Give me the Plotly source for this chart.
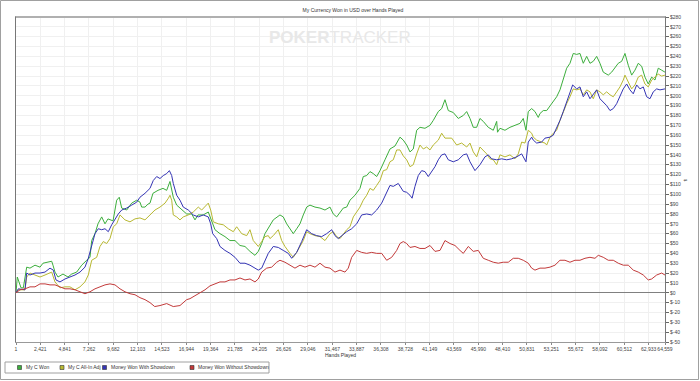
import plotly.graph_objects as go

# ---------------- data ----------------
green_hands = [1,130,500,730,1065,1393,1890,2388,2686,3054,3551,3680,3879,4178,4675,5172,5541,6038,6535,7033,7361,7530,7858,8157,8524,8853,9151,9654,10017,10275,10514,11011,11509,12006,12334,12503,12832,13130,13329,13627,14125,14622,14990,15318,15488,15647,15985,16482,16980,17477,17805,18104,18631,19128,19466,19795,20292,20789,21287,21784,22281,22779,23276,23773,24102,24440,24768,25265,25594,26260,26588,26927,27255,27583,27921,28249,28578,28916,29244,29742,30239,30736,31234,31562,31900,32228,32557,32895,33223,33720,34218,34546,34884,35212,35541,35879,36207,36704,37202,37699,38196,38525,38863,39191,39520,39858,40186,40683,41181,41509,42007,42345,42673,43002,43499,43996,44494,44832,45159,45488,45826,46154,46483,46980,47478,47816,47900,48143,48641,49138,49635,50133,50461,50730,50958,51296,51625,51953,52122,52450,52789,53117,53445,53783,54112,54440,54778,55106,55435,55773,56101,56429,56768,57096,57424,57762,58090,58419,58916,59254,59582,59910,60249,60577,60905,61243,61571,61900,62238,62566,62894,63233,63561,63889,64228,64556]
green_vals = [0,16,5,5,26,25,28,26,30,31,32,28,21,16,19,16,19,21,28,33,36,53,60,70,77,70,75,73,94,97,86,84,91,94,92,87,87,90,91,101,104,106,104,113,106,97,89,84,80,80,74,79,79,82,72,64,60,57,53,53,48,47,42,38,42,50,60,69,74,79,77,70,65,60,65,70,79,87,89,87,86,84,87,80,77,82,86,87,94,99,106,118,119,123,121,118,124,135,146,149,158,155,150,143,146,165,168,167,170,175,184,187,196,185,183,177,180,184,177,168,168,177,174,168,165,174,163,167,165,168,170,172,177,165,184,187,184,178,182,185,185,190,194,199,206,216,228,233,243,242,243,233,240,233,235,240,233,224,221,224,228,233,235,243,231,221,226,233,230,219,212,219,216,228,226,224]

yellow_hands = [1,230,895,1065,1393,1890,2388,2885,3551,3879,4377,4874,5371,5869,6366,6863,7192,7530,8027,8355,8684,9022,9350,9684,10017,10345,10842,11340,11837,12334,12832,13329,13826,14324,14821,15160,15318,15488,15647,15985,16313,16641,17139,17636,18134,18472,18800,19128,19367,19626,20123,20621,21117,21615,21953,22450,22948,23276,23604,24102,24440,24768,25096,25265,25594,26091,26429,26757,27255,27583,27921,28249,28578,28916,29244,29742,30239,30736,31234,31562,31900,32228,32557,32895,33223,33554,33889,34218,34546,34884,35212,35541,35879,36207,36540,36874,37202,37530,37868,38196,38525,38863,39191,39520,39858,40186,40514,40853,41181,41509,42007,42345,42673,43002,43340,43837,44334,44832,45159,45488,45826,46154,46483,46821,47149,47478,47816,48143,48641,49138,49635,49964,50302,50630,50958,51296,51456,51794,52291,52620,52789,53117,53445,53783,54112,54440,54778,55106,55435,55773,56101,56429,56768,57096,57424,57762,58090,58419,58757,59085,59413,59751,60080,60408,60577,60905,61243,61571,61900,62238,62566,62894,63233,63561,63889,64228,64556]
yellow_vals = [0,3,3,16,20,18,16,18,21,11,5,6,6,3,6,11,18,33,36,47,52,50,55,67,70,79,74,72,75,76,74,79,84,87,91,96,99,94,79,77,74,77,79,82,87,84,87,91,84,72,70,69,65,62,67,60,58,64,53,47,52,57,58,55,58,64,53,47,40,36,41,47,53,62,60,58,57,53,60,62,57,55,60,64,67,77,82,87,94,99,106,104,109,114,124,125,133,135,145,145,139,135,128,130,141,150,146,148,145,150,155,162,157,157,157,150,152,148,152,143,138,148,145,141,136,135,130,140,138,140,136,141,153,152,165,162,158,155,153,152,150,158,162,165,175,184,192,199,207,206,207,201,206,204,197,206,204,201,204,201,199,204,209,216,221,214,207,211,219,221,212,209,216,219,222,220,221]

blue_hands = [1,230,895,1065,1393,1890,2388,2885,3382,3710,3979,4377,4874,5371,5869,6366,6863,7192,7530,7858,8186,8524,8853,9181,9519,9848,10176,10514,11011,11509,12006,12334,12832,13329,13657,13997,14324,14652,14990,15259,15488,15647,15985,16313,16641,17139,17636,18134,18631,19128,19367,19566,19964,20292,20789,21287,21784,22281,22779,23276,23773,24102,24440,24768,25096,25594,26091,26588,27086,27424,27921,28418,28916,29413,29911,30408,30905,31403,31731,32059,32397,32895,33392,33889,34387,34884,35382,35879,36376,36874,37202,37530,38027,38525,38863,39191,39400,39689,40017,40355,40683,41012,41350,41678,42007,42345,42673,43002,43499,43996,44494,44832,45159,45657,46154,46652,46980,47318,47816,48313,48810,49307,49805,50302,50730,50958,51296,51456,51794,52291,52620,53117,53445,53783,54112,54440,54778,55106,55375,55773,56101,56429,56768,57096,57424,57762,58090,58419,58757,59085,59413,59751,60080,60408,60746,61074,61403,61741,62069,62397,62735,63064,63392,63730,64059,64556]
blue_vals = [0,4,3,20,18,20,20,21,25,23,13,11,14,16,18,21,26,35,47,60,65,64,65,62,69,75,80,84,86,89,92,97,101,106,114,118,116,119,121,124,119,111,99,94,87,84,79,77,79,77,70,60,55,47,43,40,36,30,30,28,25,23,25,33,40,47,46,43,40,35,41,52,64,60,58,57,60,64,58,55,58,62,65,70,79,80,79,84,91,101,109,108,111,103,102,99,96,108,119,124,123,118,123,128,135,140,141,135,133,135,140,141,133,124,130,138,140,136,135,136,135,136,138,141,133,153,158,155,152,153,157,158,160,167,175,184,194,202,211,207,209,199,204,197,201,206,197,194,190,185,187,192,199,207,212,206,202,211,207,209,199,197,204,207,206,207]

red_hands = [1,400,895,1393,1890,2388,2885,3382,3879,4377,4874,5371,5869,6366,6863,7361,7858,8355,8853,9350,9848,10345,10842,11340,11837,12334,12832,13329,13800,14324,14990,15647,16313,16980,17308,17805,18302,18800,19297,19795,20292,20789,21287,21784,22281,22779,23276,23773,24102,24440,24937,25435,25932,26260,26757,27255,27752,28249,28747,29244,29742,30239,30736,31234,31731,32228,32726,33054,33392,33889,34387,34884,35382,35879,36376,36874,37371,37868,38196,38525,38863,39191,39689,40186,40683,41181,41678,42176,42673,43171,43668,44165,44494,44991,45488,45985,46483,46980,47478,47975,48472,48969,49467,49964,50461,50958,51296,51625,52122,52620,53117,53614,54112,54609,55106,55604,56101,56598,57096,57593,57922,58419,58916,59413,59910,60408,60905,61403,61900,62397,62894,63233,63730,64228,64556]
red_vals = [0,3,4,6,6,9,9,8,8,6,4,4,3,1,-1,1,4,6,8,9,8,4,1,-1,-2,-5,-7,-10,-14,-13,-11,-14,-13,-7,-6,-3,0,3,7,9,11,11,13,13,15,13,14,11,14,21,25,26,31,33,31,28,25,28,26,28,26,30,26,25,21,23,21,25,36,43,41,40,41,40,40,33,36,43,50,52,50,46,47,45,45,48,42,43,53,50,48,43,40,47,42,43,35,33,31,30,31,31,35,35,33,30,25,23,25,25,26,28,33,33,31,33,33,35,36,35,38,36,33,33,30,28,28,23,21,18,13,14,18,20,18]

series_names = ["My C Won", "My C All-In Adj", "Money Won With Showdown", "Money Won Without Showdown"]
series_colors = ["#3cae3c", "#b8b832", "#3434b4", "#c23a3a"]

x_tick_vals = [1,2421,4841,7262,9682,12103,14523,16944,19364,21785,24205,26626,29046,31467,33887,36308,38728,41149,43569,45990,48410,50831,53251,55672,58092,60512,62933,64559]
x_tick_text = [f"{v:,}" for v in x_tick_vals]
y_tick_vals = list(range(-50, 290, 10))
y_tick_text = [f"${v}" for v in y_tick_vals]

FONT = "Liberation Sans"

fig = go.Figure()
for hands, vals, name, color in zip(
        [green_hands, yellow_hands, blue_hands, red_hands],
        [green_vals, yellow_vals, blue_vals, red_vals],
        series_names, series_colors):
    fig.add_trace(go.Scatter(x=hands, y=vals, mode="lines", name=name,
                             line=dict(color=color, width=1), showlegend=False,
                             hoverinfo="skip"))

# plot area: x 16..665 px, y 17..342 px
L, R, T, B = 16, 665, 17, 342
W, H = R - L, B - T
def px(x):
    return (x - L) / W
def py(y):
    return (B - y) / H

shapes = []
annotations = []
# outer frame
shapes.append(dict(type="rect", xref="paper", yref="paper", x0=px(0.5), x1=px(698.5),
                   y0=py(379.5), y1=py(0.5), line=dict(color="#a0a0a0", width=1)))
# top plot border
shapes.append(dict(type="line", xref="paper", yref="paper", x0=0, x1=1, y0=1, y1=1,
                   line=dict(color="#b0b0b0", width=2)))
# legend box
shapes.append(dict(type="rect", xref="paper", yref="paper", x0=px(5), x1=px(269),
                   y0=py(373), y1=py(362), line=dict(color="#a0a0a0", width=1)))
leg_sq_x = [19.5, 62, 104.5, 192]
leg_txt_x = [23.5, 65.5, 108.5, 196]
for name, color, sx, tx in zip(series_names, series_colors, leg_sq_x, leg_txt_x):
    shapes.append(dict(type="rect", xref="paper", yref="paper", x0=px(sx - 2), x1=px(sx + 2),
                       y0=py(369.5), y1=py(365.5), fillcolor=color,
                       line=dict(color="#333333", width=0.6)))
    annotations.append(dict(text=name, xref="paper", yref="paper", x=px(tx), y=py(367.5),
                            xanchor="left", yanchor="middle", showarrow=False,
                            font=dict(family=FONT, size=5, color="#333333")))

# watermark
annotations.append(dict(text="<b>POKER</b>TRACKER", xref="paper", yref="paper",
                        x=px(340), y=py(37), xanchor="center", yanchor="middle",
                        showarrow=False, font=dict(family=FONT, size=17, color="#e8e8e8")))
# x-axis title
annotations.append(dict(text="Hands Played", xref="paper", yref="paper", x=px(340), y=py(355),
                        xanchor="center", yanchor="middle", showarrow=False,
                        font=dict(family=FONT, size=5, color="#333333")))
# y-axis symbol
annotations.append(dict(text="$", xref="paper", yref="paper", x=px(685), y=py(180),
                        xanchor="center", yanchor="middle", showarrow=False, textangle=90,
                        font=dict(family=FONT, size=4, color="#333333")))

fig.update_layout(
    width=700, height=381,
    margin=dict(l=L, r=700 - R, t=T, b=381 - B, pad=0, autoexpand=False),
    paper_bgcolor="white", plot_bgcolor="white",
    title=dict(text="My Currency Won in USD over Hands Played", x=353 / 700, xanchor="center",
               y=1 - 10 / 381, yanchor="middle",
               font=dict(family=FONT, size=5, color="#333333")),
    font=dict(family=FONT, size=5, color="#444444"),
    showlegend=False,
    hovermode=False,
    shapes=shapes,
    annotations=annotations,
    xaxis=dict(range=[1, 64559], tickmode="array", tickvals=x_tick_vals, ticktext=x_tick_text,
               ticks="outside", ticklen=2, tickcolor="#888888", tickwidth=1,
               showline=True, linecolor="#999999", linewidth=1, mirror=True,
               showgrid=True, gridcolor="#f0f0f0", gridwidth=1, zeroline=False,
               tickfont=dict(family=FONT, size=5, color="#444444"), tickangle=0,
               automargin=False),
    yaxis=dict(range=[-50, 280], side="right", tickmode="array", tickvals=y_tick_vals,
               ticktext=y_tick_text, ticks="outside", ticklen=3, tickcolor="#666666",
               showline=True, linecolor="#777777", linewidth=1, mirror=True,
               showgrid=True, gridcolor="#f0f0f0", gridwidth=1,
               zeroline=True, zerolinecolor="#808080", zerolinewidth=1,
               tickfont=dict(family=FONT, size=5, color="#444444"), automargin=False),
)

fig.write_html("out.html", config={"displayModeBar": False, "staticPlot": True},
               post_script="document.body.style.margin='0';document.body.style.overflow='hidden';")
